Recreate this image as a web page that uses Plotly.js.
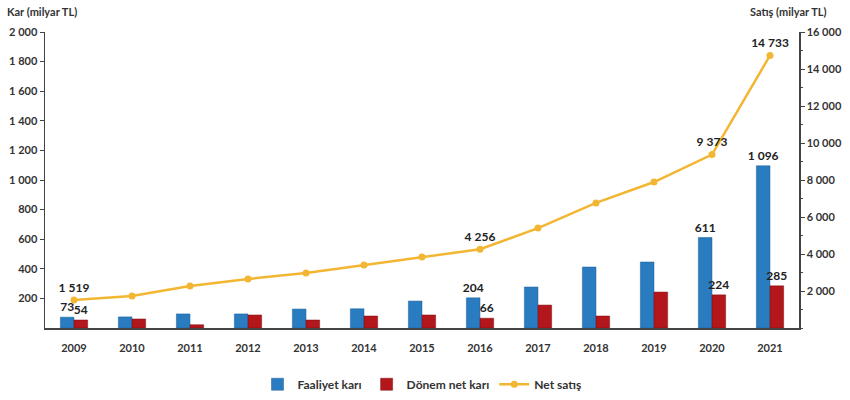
<!DOCTYPE html>
<html>
<head>
<meta charset="utf-8">
<script src="https://cdn.plot.ly/plotly-3.0.1.min.js"></script>
<style>
  html, body { margin: 0; padding: 0; background: #fff; }
  #chart { width: 850px; height: 400px; }
</style>
</head>
<body>
<div id="chart"></div>
<script>
// yıllar ve seriler
const yillar = ["2009", "2010", "2011", "2012", "2013", "2014", "2015", "2016", "2017", "2018", "2019", "2020", "2021"];
const faaliyetKari = [73, 75, 95, 95, 128, 130, 182, 204, 277, 412, 446, 611, 1096];
const donemNetKari = [54, 61, 22, 88, 54, 81, 88, 66, 155, 81, 243, 224, 285];
const netSatis = [1519, 1730, 2270, 2650, 2970, 3400, 3840, 4256, 5400, 6760, 7890, 9373, 14733];

// etiket gösterilen yıllar
const etiketliYillar = ["2009", "2016", "2020", "2021"];

const solEksenTikler = [200, 400, 600, 800, 1000, 1200, 1400, 1600, 1800, 2000];
const sagEksenTikler = [2000, 4000, 6000, 8000, 10000, 12000, 14000, 16000];

// binlik ayırıcı boşluk
function fmt(n) {
  return String(n).replace(/\B(?=(\d{3})+(?!\d))/g, " ");
}

function etiketler(degerler) {
  return degerler.map((v, i) => etiketliYillar.includes(yillar[i]) ? fmt(v) : "");
}

const yaziTipi = "Lato, 'Open Sans', sans-serif";
const etiketFont = { family: yaziTipi, size: 12, color: "#222", weight: "bold" };

const traces = [
  {
    type: "bar",
    name: "Faaliyet karı",
    x: yillar,
    y: faaliyetKari,
    text: etiketler(faaliyetKari),
    textposition: "outside",
    constraintext: "none",
    textfont: etiketFont,
    cliponaxis: false,
    marker: { color: "#2a7cc1", line: { color: "#1f5f96", width: 0.5 } },
    hoverinfo: "x+y"
  },
  {
    type: "bar",
    name: "Dönem net karı",
    x: yillar,
    y: donemNetKari,
    text: etiketler(donemNetKari),
    textposition: "outside",
    constraintext: "none",
    textfont: etiketFont,
    cliponaxis: false,
    marker: { color: "#b3161b", line: { color: "#7d0f12", width: 0.5 } },
    hoverinfo: "x+y"
  },
  {
    type: "scatter",
    mode: "lines+markers+text",
    name: "Net satış",
    x: yillar,
    y: netSatis,
    yaxis: "y2",
    text: etiketler(netSatis),
    textposition: "top center",
    textfont: etiketFont,
    cliponaxis: false,
    line: { color: "#f2b632", width: 2.5 },
    marker: { color: "#f2b632", size: 7, symbol: "circle" },
    hoverinfo: "x+y"
  }
];

const eksenFont = { family: yaziTipi, size: 11, color: "#333", weight: "bold" };

const layout = {
  width: 850,
  height: 400,
  margin: { l: 45, r: 51, t: 32, b: 72, autoexpand: false },
  paper_bgcolor: "#fff",
  plot_bgcolor: "#fff",
  showlegend: true,
  barmode: "group",
  bargap: 0.53,
  bargroupgap: 0,
  font: { family: yaziTipi, size: 11, color: "#333" },
  xaxis: {
    type: "category",
    range: [-0.5, 12.5],
    showline: true,
    linecolor: "#444",
    linewidth: 1.5,
    ticks: "",
    ticklabelstandoff: 9,
    tickfont: eksenFont,
    showgrid: false,
    zeroline: false
  },
  yaxis: {
    range: [0, 2000],
    tickvals: solEksenTikler,
    ticktext: solEksenTikler.map(fmt),
    ticks: "outside",
    ticklen: 4,
    tickcolor: "#444",
    showline: true,
    linecolor: "#444",
    linewidth: 1.5,
    tickfont: eksenFont,
    showgrid: false,
    zeroline: false
  },
  yaxis2: {
    overlaying: "y",
    side: "right",
    range: [0, 16000],
    tickvals: sagEksenTikler,
    ticktext: sagEksenTikler.map(fmt),
    ticks: "outside",
    ticklen: 4,
    tickcolor: "#444",
    minor: { dtick: 1000, ticks: "outside", ticklen: 2, tickcolor: "#444", showgrid: false },
    showline: true,
    linecolor: "#444",
    linewidth: 1.5,
    tickfont: eksenFont,
    showgrid: false,
    zeroline: false
  },
  legend: {
    orientation: "h",
    x: 0.5,
    xanchor: "center",
    y: -0.19,
    yanchor: "middle",
    font: { family: yaziTipi, size: 12, color: "#333", weight: "bold" },
    traceorder: "normal"
  },
  annotations: [
    {
      text: "Kar (milyar TL)",
      xref: "paper", yref: "paper",
      x: 0, y: 1,
      xshift: -40, yshift: 21,
      xanchor: "left", yanchor: "middle",
      showarrow: false,
      font: { family: yaziTipi, size: 11, color: "#333", weight: "bold" }
    },
    {
      text: "Satış (milyar TL)",
      xref: "paper", yref: "paper",
      x: 1, y: 1,
      xshift: 30, yshift: 21,
      xanchor: "right", yanchor: "middle",
      showarrow: false,
      font: { family: yaziTipi, size: 11, color: "#333", weight: "bold" }
    }
  ]
};

Plotly.newPlot("chart", traces, layout, { displayModeBar: false, staticPlot: true });
</script>
</body>
</html>
